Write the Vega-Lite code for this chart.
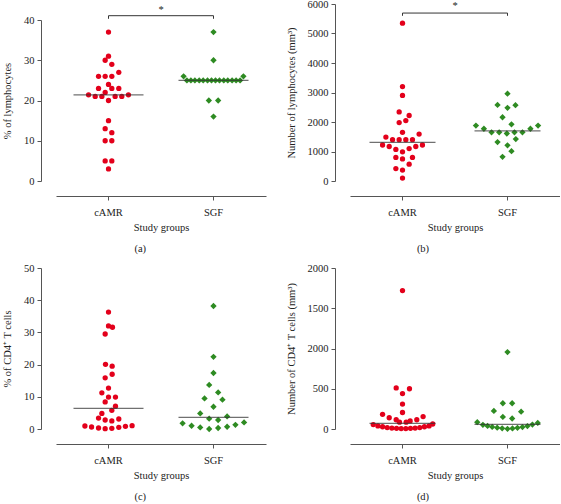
{
  "$schema": "https://vega.github.io/schema/vega-lite/v6.json",
  "padding": {"left": 2, "top": -1, "right": 0, "bottom": 0},
  "autosize": {"type": "pad"},
  "bounds": "flush",
  "columns": 2,
  "spacing": {"row": 87, "column": 84},
  "datasets": {
    "a": [
      {"group": "cAMR", "v": 37, "j": 0}, {"group": "cAMR", "v": 31, "j": 0}, {"group": "cAMR", "v": 30, "j": -0.5}, {"group": "cAMR", "v": 29, "j": 0.5},
      {"group": "cAMR", "v": 27, "j": 1.55}, {"group": "cAMR", "v": 26, "j": -1.5}, {"group": "cAMR", "v": 26, "j": -0.5}, {"group": "cAMR", "v": 26, "j": 0.5},
      {"group": "cAMR", "v": 24, "j": 0}, {"group": "cAMR", "v": 23, "j": -1.5}, {"group": "cAMR", "v": 23, "j": 0.5}, {"group": "cAMR", "v": 23, "j": 1.55},
      {"group": "cAMR", "v": 22, "j": -0.5}, {"group": "cAMR", "v": 21.4, "j": -3}, {"group": "cAMR", "v": 21, "j": -2}, {"group": "cAMR", "v": 21, "j": -1},
      {"group": "cAMR", "v": 21, "j": 1}, {"group": "cAMR", "v": 21, "j": 2}, {"group": "cAMR", "v": 21.4, "j": 3}, {"group": "cAMR", "v": 20, "j": 0},
      {"group": "cAMR", "v": 15, "j": 0}, {"group": "cAMR", "v": 13, "j": -0.5}, {"group": "cAMR", "v": 12, "j": 0.5}, {"group": "cAMR", "v": 10, "j": -0.5},
      {"group": "cAMR", "v": 10, "j": 0.5}, {"group": "cAMR", "v": 5, "j": -0.5}, {"group": "cAMR", "v": 5, "j": 0.5}, {"group": "cAMR", "v": 3, "j": 0},
      {"group": "SGF", "v": 37, "j": 0}, {"group": "SGF", "v": 30, "j": 0}, {"group": "SGF", "v": 26, "j": -4.5}, {"group": "SGF", "v": 26, "j": 4.5},
      {"group": "SGF", "v": 25, "j": -4}, {"group": "SGF", "v": 25, "j": -3.4}, {"group": "SGF", "v": 25, "j": -2.8}, {"group": "SGF", "v": 25, "j": -2.15},
      {"group": "SGF", "v": 25, "j": -1.55}, {"group": "SGF", "v": 25, "j": -0.9}, {"group": "SGF", "v": 25, "j": -0.3}, {"group": "SGF", "v": 25, "j": 0.3},
      {"group": "SGF", "v": 25, "j": 0.9}, {"group": "SGF", "v": 25, "j": 1.55}, {"group": "SGF", "v": 25, "j": 2.15}, {"group": "SGF", "v": 25, "j": 2.8},
      {"group": "SGF", "v": 25, "j": 3.4}, {"group": "SGF", "v": 25, "j": 4}, {"group": "SGF", "v": 20, "j": -0.7}, {"group": "SGF", "v": 20, "j": 0.7},
      {"group": "SGF", "v": 16, "j": 0}
    ],
    "a_mean": [{"group": "cAMR", "v": 21.4}, {"group": "SGF", "v": 25}],
    "a_sig": [{"from": "cAMR", "to": "SGF", "v": 41.07, "v2": 40.3, "star": 41.7, "label": "*"}],
    "b": [
      {"group": "cAMR", "v": 5350, "j": 0}, {"group": "cAMR", "v": 3200, "j": 0}, {"group": "cAMR", "v": 2900, "j": 0}, {"group": "cAMR", "v": 2340, "j": -0.5},
      {"group": "cAMR", "v": 2220, "j": 1}, {"group": "cAMR", "v": 2050, "j": 0.5}, {"group": "cAMR", "v": 1980, "j": -0.5}, {"group": "cAMR", "v": 1650, "j": 0},
      {"group": "cAMR", "v": 1590, "j": 2.5}, {"group": "cAMR", "v": 1490, "j": -2.5}, {"group": "cAMR", "v": 1400, "j": -1.5}, {"group": "cAMR", "v": 1400, "j": -0.5},
      {"group": "cAMR", "v": 1400, "j": 0.5}, {"group": "cAMR", "v": 1400, "j": 1.5}, {"group": "cAMR", "v": 1220, "j": -3}, {"group": "cAMR", "v": 1220, "j": 3},
      {"group": "cAMR", "v": 1170, "j": -2}, {"group": "cAMR", "v": 1170, "j": 2}, {"group": "cAMR", "v": 1070, "j": -1}, {"group": "cAMR", "v": 1100, "j": 1},
      {"group": "cAMR", "v": 990, "j": 0}, {"group": "cAMR", "v": 800, "j": -1}, {"group": "cAMR", "v": 800, "j": 1.5}, {"group": "cAMR", "v": 750, "j": 0},
      {"group": "cAMR", "v": 570, "j": 1}, {"group": "cAMR", "v": 420, "j": -1}, {"group": "cAMR", "v": 370, "j": 0}, {"group": "cAMR", "v": 100, "j": 0},
      {"group": "SGF", "v": 2960, "j": 0}, {"group": "SGF", "v": 2580, "j": -1.5}, {"group": "SGF", "v": 2480, "j": 0}, {"group": "SGF", "v": 2570, "j": 1.2},
      {"group": "SGF", "v": 2160, "j": -0.75}, {"group": "SGF", "v": 1920, "j": 0.6}, {"group": "SGF", "v": 1880, "j": -4.75}, {"group": "SGF", "v": 1880, "j": 4.6},
      {"group": "SGF", "v": 1770, "j": -3.55}, {"group": "SGF", "v": 1770, "j": 3.45}, {"group": "SGF", "v": 1650, "j": -2.4}, {"group": "SGF", "v": 1650, "j": -1.25},
      {"group": "SGF", "v": 1610, "j": -0.1}, {"group": "SGF", "v": 1650, "j": 1.05}, {"group": "SGF", "v": 1650, "j": 2.25}, {"group": "SGF", "v": 1420, "j": 1.25},
      {"group": "SGF", "v": 1320, "j": -1.5}, {"group": "SGF", "v": 1210, "j": 0}, {"group": "SGF", "v": 1010, "j": 0.6}, {"group": "SGF", "v": 820, "j": -0.75}
    ],
    "b_mean": [{"group": "cAMR", "v": 1310}, {"group": "SGF", "v": 1700}],
    "b_sig": [{"from": "cAMR", "to": "SGF", "v": 5693, "v2": 5600, "star": 5820, "label": "*"}],
    "c": [
      {"group": "cAMR", "v": 36.3, "j": 0}, {"group": "cAMR", "v": 32.0, "j": 0}, {"group": "cAMR", "v": 31.6, "j": 0.6}, {"group": "cAMR", "v": 29.5, "j": -0.5},
      {"group": "cAMR", "v": 20.1, "j": -0.45}, {"group": "cAMR", "v": 19.5, "j": 0.55}, {"group": "cAMR", "v": 17.0, "j": 0.55}, {"group": "cAMR", "v": 15.9, "j": -0.5},
      {"group": "cAMR", "v": 12.7, "j": 0}, {"group": "cAMR", "v": 11.25, "j": -1}, {"group": "cAMR", "v": 9.9, "j": 0}, {"group": "cAMR", "v": 9.9, "j": 1.05},
      {"group": "cAMR", "v": 8.4, "j": -0.5}, {"group": "cAMR", "v": 7.1, "j": 1.05}, {"group": "cAMR", "v": 5.8, "j": 0.5}, {"group": "cAMR", "v": 4.85, "j": -1},
      {"group": "cAMR", "v": 3.4, "j": -1.5}, {"group": "cAMR", "v": 2.8, "j": -0.5}, {"group": "cAMR", "v": 2.5, "j": 0.5}, {"group": "cAMR", "v": 3.1, "j": 1.55},
      {"group": "cAMR", "v": 0.93, "j": -3.55}, {"group": "cAMR", "v": 0.62, "j": -2.55}, {"group": "cAMR", "v": 0.31, "j": -1.5}, {"group": "cAMR", "v": 0.1, "j": -0.5},
      {"group": "cAMR", "v": 0.2, "j": 0.5}, {"group": "cAMR", "v": 0.52, "j": 1.55}, {"group": "cAMR", "v": 0.83, "j": 2.55}, {"group": "cAMR", "v": 1.03, "j": 3.55},
      {"group": "SGF", "v": 38.2, "j": 0}, {"group": "SGF", "v": 22.4, "j": 0}, {"group": "SGF", "v": 17.4, "j": 0}, {"group": "SGF", "v": 13.7, "j": -0.65},
      {"group": "SGF", "v": 11.35, "j": 0.7}, {"group": "SGF", "v": 9.5, "j": -1.35}, {"group": "SGF", "v": 9.1, "j": 1.35}, {"group": "SGF", "v": 6.9, "j": 0},
      {"group": "SGF", "v": 4.85, "j": -2}, {"group": "SGF", "v": 3.9, "j": 2.05}, {"group": "SGF", "v": 3.2, "j": -0.65}, {"group": "SGF", "v": 2.8, "j": 0.7},
      {"group": "SGF", "v": 1.75, "j": -4.65}, {"group": "SGF", "v": 2.05, "j": 4.6}, {"group": "SGF", "v": 1.3, "j": 3.3}, {"group": "SGF", "v": 1.0, "j": -3.3},
      {"group": "SGF", "v": 0.5, "j": -2}, {"group": "SGF", "v": 0, "j": -0.65}, {"group": "SGF", "v": 0.3, "j": 0.7}, {"group": "SGF", "v": 0.7, "j": 2.05}
    ],
    "c_mean": [{"group": "cAMR", "v": 6.4}, {"group": "SGF", "v": 3.6}],
    "d": [
      {"group": "cAMR", "v": 1720, "j": 0}, {"group": "cAMR", "v": 510, "j": -0.95}, {"group": "cAMR", "v": 500, "j": 1.05}, {"group": "cAMR", "v": 440, "j": 0},
      {"group": "cAMR", "v": 310, "j": 0}, {"group": "cAMR", "v": 205, "j": 0}, {"group": "cAMR", "v": 182, "j": -3}, {"group": "cAMR", "v": 140, "j": -2},
      {"group": "cAMR", "v": 155, "j": 3.1}, {"group": "cAMR", "v": 115, "j": -0.95}, {"group": "cAMR", "v": 115, "j": 2.15}, {"group": "cAMR", "v": 100, "j": 1.15},
      {"group": "cAMR", "v": 85, "j": -0.45}, {"group": "cAMR", "v": 85, "j": 0.55}, {"group": "cAMR", "v": 62, "j": 4.55}, {"group": "cAMR", "v": 55, "j": -4.4},
      {"group": "cAMR", "v": 38, "j": -3.7}, {"group": "cAMR", "v": 28, "j": -3.0}, {"group": "cAMR", "v": 18, "j": -2.3}, {"group": "cAMR", "v": 12, "j": -1.6},
      {"group": "cAMR", "v": 8, "j": -0.9}, {"group": "cAMR", "v": 5, "j": -0.2}, {"group": "cAMR", "v": 5, "j": 0.5}, {"group": "cAMR", "v": 8, "j": 1.2},
      {"group": "cAMR", "v": 12, "j": 1.9}, {"group": "cAMR", "v": 18, "j": 2.6}, {"group": "cAMR", "v": 28, "j": 3.3}, {"group": "cAMR", "v": 38, "j": 4.0},
      {"group": "SGF", "v": 955, "j": 0}, {"group": "SGF", "v": 320, "j": -0.7}, {"group": "SGF", "v": 320, "j": 0.7}, {"group": "SGF", "v": 225, "j": -2.05},
      {"group": "SGF", "v": 215, "j": 2.05}, {"group": "SGF", "v": 150, "j": -0.7}, {"group": "SGF", "v": 130, "j": 0.7}, {"group": "SGF", "v": 85, "j": -4.55},
      {"group": "SGF", "v": 75, "j": 4.55}, {"group": "SGF", "v": 52, "j": -3.7}, {"group": "SGF", "v": 38, "j": -3.0}, {"group": "SGF", "v": 26, "j": -2.3},
      {"group": "SGF", "v": 16, "j": -1.55}, {"group": "SGF", "v": 8, "j": -0.8}, {"group": "SGF", "v": 2, "j": 0}, {"group": "SGF", "v": 7, "j": 0.75},
      {"group": "SGF", "v": 14, "j": 1.5}, {"group": "SGF", "v": 24, "j": 2.25}, {"group": "SGF", "v": 36, "j": 3.0}, {"group": "SGF", "v": 55, "j": 3.75}
    ],
    "d_mean": [{"group": "cAMR", "v": 70}, {"group": "SGF", "v": 58}]
  },
  "concat": [
    {
      "width": 210, "height": 177,
      "title": {"text": "(a)", "orient": "bottom", "frame": "bounds", "anchor": "middle", "offset": 11, "dx": 6},
      "encoding": {
        "y": {"type": "quantitative", "scale": {"domain": [0, 40], "range": [177, 16], "nice": false, "zero": false}, "axis": {"title": "% of lymphocytes", "values": [0, 10, 20, 30, 40], "format": "d", "labelOverlap": false}}
      },
      "layer": [
        {
          "data": {"name": "a"},
          "mark": {"type": "point", "filled": true, "opacity": 1},
          "encoding": {
            "x": {"field": "group", "type": "nominal", "scale": {"type": "band", "domain": ["cAMR", "SGF"], "paddingInner": 0, "paddingOuter": 0}, "axis": {"title": "Study groups", "labelAngle": 0, "labelPadding": 7, "titlePadding": 5}},
            "xOffset": {"field": "j", "type": "quantitative", "scale": {"domain": [-7.9, 7.9]}},
            "y": {"field": "v"},
            "color": {"field": "group", "type": "nominal", "scale": {"domain": ["cAMR", "SGF"], "range": ["#e3001b", "#2e8b22"]}, "legend": null},
            "shape": {"field": "group", "type": "nominal", "scale": {"domain": ["cAMR", "SGF"], "range": ["circle", "diamond"]}, "legend": null},
            "size": {"field": "group", "type": "nominal", "scale": {"domain": ["cAMR", "SGF"], "range": [28, 40]}, "legend": null}
          }
        },
        {
          "data": {"name": "a_mean"},
          "mark": {"type": "tick", "size": 70, "thickness": 1.3, "color": "#333"},
          "encoding": {"x": {"field": "group", "type": "nominal"}, "y": {"field": "v"}}
        },
        {
          "data": {"name": "a_sig"},
          "mark": {"type": "rule", "color": "#333", "strokeWidth": 1},
          "encoding": {"x": {"field": "from", "type": "nominal"}, "x2": {"field": "to"}, "y": {"field": "v"}}
        },
        {
          "data": {"name": "a_sig"},
          "mark": {"type": "rule", "color": "#333", "strokeWidth": 1},
          "encoding": {"x": {"field": "from", "type": "nominal"}, "y": {"field": "v"}, "y2": {"field": "v2"}}
        },
        {
          "data": {"name": "a_sig"},
          "mark": {"type": "rule", "color": "#333", "strokeWidth": 1},
          "encoding": {"x": {"field": "to", "type": "nominal"}, "y": {"field": "v"}, "y2": {"field": "v2"}}
        },
        {
          "data": {"name": "a_sig"},
          "mark": {"type": "text", "baseline": "alphabetic", "fontSize": 10.5, "color": "#222", "font": "Liberation Serif"},
          "encoding": {"x": {"field": "from", "type": "nominal", "bandPosition": 1}, "y": {"field": "star"}, "text": {"field": "label"}}
        }
      ]
    },
    {
      "width": 210, "height": 177,
      "title": {"text": "(b)", "orient": "bottom", "frame": "bounds", "anchor": "middle", "offset": 11},
      "encoding": {
        "y": {"type": "quantitative", "scale": {"domain": [0, 6000], "nice": false}, "axis": {"title": "Number of lymphocytes (mm³)", "values": [0, 1000, 2000, 3000, 4000, 5000, 6000], "format": "d", "labelOverlap": false}}
      },
      "layer": [
        {
          "data": {"name": "b"},
          "mark": {"type": "point", "filled": true, "opacity": 1},
          "encoding": {
            "x": {"field": "group", "type": "nominal", "scale": {"type": "band", "domain": ["cAMR", "SGF"], "paddingInner": 0, "paddingOuter": 0}, "axis": {"title": "Study groups", "labelAngle": 0, "labelPadding": 7, "titlePadding": 5}},
            "xOffset": {"field": "j", "type": "quantitative", "scale": {"domain": [-7.9, 7.9]}},
            "y": {"field": "v"},
            "color": {"field": "group", "type": "nominal", "scale": {"domain": ["cAMR", "SGF"], "range": ["#e3001b", "#2e8b22"]}, "legend": null},
            "shape": {"field": "group", "type": "nominal", "scale": {"domain": ["cAMR", "SGF"], "range": ["circle", "diamond"]}, "legend": null},
            "size": {"field": "group", "type": "nominal", "scale": {"domain": ["cAMR", "SGF"], "range": [28, 40]}, "legend": null}
          }
        },
        {
          "data": {"name": "b_mean"},
          "mark": {"type": "tick", "size": 66, "thickness": 1.3, "color": "#333"},
          "encoding": {"x": {"field": "group", "type": "nominal"}, "y": {"field": "v"}}
        },
        {
          "data": {"name": "b_sig"},
          "mark": {"type": "rule", "color": "#333", "strokeWidth": 1},
          "encoding": {"x": {"field": "from", "type": "nominal"}, "x2": {"field": "to"}, "y": {"field": "v"}}
        },
        {
          "data": {"name": "b_sig"},
          "mark": {"type": "rule", "color": "#333", "strokeWidth": 1},
          "encoding": {"x": {"field": "from", "type": "nominal"}, "y": {"field": "v"}, "y2": {"field": "v2"}}
        },
        {
          "data": {"name": "b_sig"},
          "mark": {"type": "rule", "color": "#333", "strokeWidth": 1},
          "encoding": {"x": {"field": "to", "type": "nominal"}, "y": {"field": "v"}, "y2": {"field": "v2"}}
        },
        {
          "data": {"name": "b_sig"},
          "mark": {"type": "text", "baseline": "alphabetic", "fontSize": 10.5, "color": "#222", "font": "Liberation Serif"},
          "encoding": {"x": {"field": "from", "type": "nominal", "bandPosition": 1}, "y": {"field": "star"}, "text": {"field": "label"}}
        }
      ]
    },
    {
      "width": 210, "height": 161,
      "title": {"text": "(c)", "orient": "bottom", "frame": "bounds", "anchor": "middle", "offset": 11, "dx": 6},
      "encoding": {
        "y": {"type": "quantitative", "scale": {"domain": [0, 50], "nice": false}, "axis": {"title": "% of CD4⁺ T cells", "values": [0, 10, 20, 30, 40, 50], "format": "d", "labelOverlap": false}}
      },
      "layer": [
        {
          "data": {"name": "c"},
          "mark": {"type": "point", "filled": true, "opacity": 1},
          "encoding": {
            "x": {"field": "group", "type": "nominal", "scale": {"type": "band", "domain": ["cAMR", "SGF"], "paddingInner": 0, "paddingOuter": 0}, "axis": {"title": "Study groups", "labelAngle": 0, "labelPadding": 7, "titlePadding": 5}},
            "xOffset": {"field": "j", "type": "quantitative", "scale": {"domain": [-7.9, 7.9]}},
            "y": {"field": "v"},
            "color": {"field": "group", "type": "nominal", "scale": {"domain": ["cAMR", "SGF"], "range": ["#e3001b", "#2e8b22"]}, "legend": null},
            "shape": {"field": "group", "type": "nominal", "scale": {"domain": ["cAMR", "SGF"], "range": ["circle", "diamond"]}, "legend": null},
            "size": {"field": "group", "type": "nominal", "scale": {"domain": ["cAMR", "SGF"], "range": [28, 40]}, "legend": null}
          }
        },
        {
          "data": {"name": "c_mean"},
          "mark": {"type": "tick", "size": 70, "thickness": 1.3, "color": "#333"},
          "encoding": {"x": {"field": "group", "type": "nominal"}, "y": {"field": "v"}}
        }
      ]
    },
    {
      "width": 210, "height": 161,
      "title": {"text": "(d)", "orient": "bottom", "frame": "bounds", "anchor": "middle", "offset": 11},
      "encoding": {
        "y": {"type": "quantitative", "scale": {"domain": [0, 2000], "nice": false}, "axis": {"title": "Number of CD4⁺ T cells (mm³)", "values": [0, 500, 1000, 1500, 2000], "format": "d", "labelOverlap": false, "labelExpr": "datum.value == 1000 ? '2000' : datum.label"}}
      },
      "layer": [
        {
          "data": {"name": "d"},
          "mark": {"type": "point", "filled": true, "opacity": 1},
          "encoding": {
            "x": {"field": "group", "type": "nominal", "scale": {"type": "band", "domain": ["cAMR", "SGF"], "paddingInner": 0, "paddingOuter": 0}, "axis": {"title": "Study groups", "labelAngle": 0, "labelPadding": 7, "titlePadding": 5}},
            "xOffset": {"field": "j", "type": "quantitative", "scale": {"domain": [-7.9, 7.9]}},
            "y": {"field": "v"},
            "color": {"field": "group", "type": "nominal", "scale": {"domain": ["cAMR", "SGF"], "range": ["#e3001b", "#2e8b22"]}, "legend": null},
            "shape": {"field": "group", "type": "nominal", "scale": {"domain": ["cAMR", "SGF"], "range": ["circle", "diamond"]}, "legend": null},
            "size": {"field": "group", "type": "nominal", "scale": {"domain": ["cAMR", "SGF"], "range": [28, 40]}, "legend": null}
          }
        },
        {
          "data": {"name": "d_mean"},
          "mark": {"type": "tick", "size": 66, "thickness": 1.3, "color": "#333"},
          "encoding": {"x": {"field": "group", "type": "nominal"}, "y": {"field": "v"}}
        }
      ]
    }
  ],
  "config": {
    "font": "Liberation Serif",
    "view": {"stroke": null},
    "axis": {
      "labelFont": "Liberation Serif", "titleFont": "Liberation Serif",
      "labelFontSize": 10.5, "titleFontSize": 10.5, "titleFontWeight": "normal",
      "labelColor": "#222", "titleColor": "#222",
      "domainColor": "#555", "tickColor": "#555", "tickSize": 4,
      "grid": false, "offset": 15, "labelOverlap": false
    },
    "axisY": {"labelPadding": 3, "titlePadding": 11},
    "title": {"font": "Liberation Serif", "fontSize": 10.5, "fontWeight": "normal", "color": "#222"}
  }
}
